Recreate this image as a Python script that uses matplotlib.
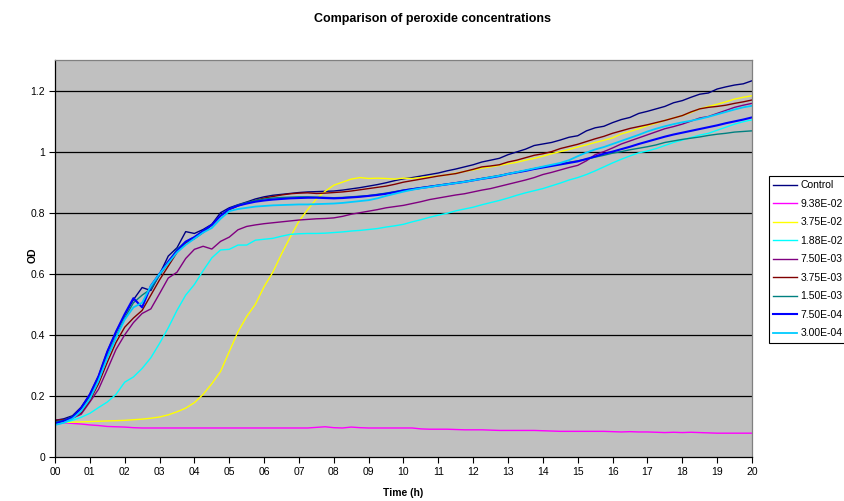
import numpy as np
import matplotlib
matplotlib.use('Agg')
import matplotlib.pyplot as plt

plt.rcParams['font.family'] = ['Liberation Sans', 'DejaVu Sans']

# time in hours, one reading every 15 min
hours = [h / 4 for h in range(81)]
hour_labels = ['%02d' % h for h in range(21)]

series_names = ['Control', '9.38E-02', '3.75E-02', '1.88E-02', '7.50E-03',
                '3.75E-03', '1.50E-03', '7.50E-04', '3.00E-04']

control = [0.12, 0.125, 0.135, 0.163, 0.205, 0.265, 0.345, 0.41,
           0.465, 0.515, 0.555, 0.545, 0.598, 0.658, 0.685, 0.738,
           0.732, 0.745, 0.762, 0.80, 0.816, 0.826, 0.835, 0.845,
           0.852, 0.857, 0.86, 0.863, 0.866, 0.868, 0.869, 0.87,
           0.871, 0.874, 0.878, 0.882, 0.887, 0.892, 0.898, 0.905,
           0.911, 0.915, 0.92, 0.925, 0.93, 0.937, 0.943, 0.95,
           0.957, 0.966, 0.972, 0.978, 0.99, 0.999, 1.008, 1.02,
           1.025, 1.03, 1.038, 1.047, 1.052, 1.068, 1.078, 1.083,
           1.095, 1.105, 1.112, 1.125, 1.132, 1.14, 1.148, 1.16,
           1.167, 1.178, 1.188, 1.192, 1.205, 1.212, 1.218, 1.222,
           1.232]

c_938e2 = [0.114, 0.112, 0.11, 0.108, 0.105, 0.103, 0.1, 0.099,
           0.098, 0.096, 0.095, 0.095, 0.095, 0.095, 0.095, 0.095,
           0.095, 0.095, 0.095, 0.095, 0.095, 0.095, 0.095, 0.095,
           0.095, 0.095, 0.095, 0.095, 0.095, 0.095, 0.097, 0.099,
           0.096, 0.095, 0.098, 0.096, 0.095, 0.095, 0.095, 0.095,
           0.095, 0.095, 0.092, 0.091, 0.091, 0.091, 0.09, 0.089,
           0.089, 0.089, 0.088, 0.087, 0.087, 0.087, 0.087, 0.087,
           0.086, 0.085, 0.084, 0.084, 0.084, 0.084, 0.084, 0.084,
           0.083, 0.082, 0.083, 0.082, 0.082, 0.081, 0.08, 0.081,
           0.08, 0.081, 0.08, 0.079, 0.078, 0.078, 0.078, 0.078,
           0.078]

c_375e2 = [0.112, 0.113, 0.114, 0.115, 0.116, 0.117, 0.118, 0.119,
           0.12, 0.122, 0.124, 0.127, 0.131, 0.138, 0.148, 0.16,
           0.178, 0.205, 0.24, 0.28, 0.345, 0.41, 0.46, 0.5,
           0.558, 0.605, 0.665, 0.72, 0.772, 0.81, 0.845, 0.87,
           0.89, 0.9, 0.91, 0.915, 0.912, 0.913, 0.912, 0.91,
           0.913, 0.912, 0.915, 0.918, 0.92, 0.924, 0.929, 0.935,
           0.94, 0.946, 0.95, 0.955, 0.96, 0.965, 0.972, 0.978,
           0.985, 0.993, 1.0, 1.007, 1.015, 1.022, 1.03, 1.037,
           1.045, 1.058, 1.066, 1.075, 1.085, 1.093, 1.102, 1.11,
           1.118, 1.128, 1.14, 1.148, 1.155, 1.163, 1.172, 1.178,
           1.183]

c_188e2 = [0.106, 0.112, 0.12, 0.13, 0.143, 0.162, 0.18, 0.205,
           0.245, 0.262, 0.29, 0.325, 0.372, 0.423, 0.48, 0.53,
           0.565, 0.61, 0.652, 0.678, 0.68, 0.694, 0.694, 0.71,
           0.713, 0.716, 0.723, 0.729, 0.731, 0.732, 0.732, 0.733,
           0.735, 0.737, 0.74, 0.742, 0.745, 0.748, 0.753, 0.757,
           0.762, 0.77, 0.777, 0.785, 0.792, 0.798, 0.806, 0.812,
           0.818, 0.826, 0.833, 0.84, 0.848, 0.857, 0.865, 0.872,
           0.879, 0.888, 0.897, 0.907, 0.915, 0.925, 0.937, 0.95,
           0.963, 0.975, 0.986, 0.996, 1.002, 1.01, 1.02, 1.03,
           1.038, 1.046, 1.054, 1.06, 1.07, 1.08, 1.09, 1.098,
           1.104]

c_750e3 = [0.12, 0.122, 0.127, 0.14, 0.18, 0.222, 0.286, 0.352,
           0.40, 0.44, 0.47, 0.485, 0.535, 0.586, 0.605, 0.65,
           0.68, 0.69, 0.681, 0.706, 0.72, 0.744, 0.755, 0.76,
           0.764, 0.767, 0.77, 0.773, 0.776, 0.778, 0.78, 0.781,
           0.783, 0.788, 0.795, 0.8, 0.805, 0.81, 0.816, 0.82,
           0.824, 0.83, 0.836, 0.843, 0.848, 0.853, 0.858, 0.862,
           0.868, 0.874, 0.879, 0.886, 0.893, 0.9, 0.907, 0.915,
           0.925, 0.932, 0.94, 0.948, 0.955, 0.97, 0.99, 1.0,
           1.012, 1.025, 1.035, 1.045, 1.055, 1.065, 1.075, 1.082,
           1.09, 1.1, 1.11, 1.115, 1.125, 1.135, 1.145, 1.152,
           1.158]

c_375e3 = [0.12, 0.122, 0.128, 0.145, 0.185, 0.24, 0.31, 0.375,
           0.425, 0.455, 0.48, 0.53, 0.58, 0.625, 0.67, 0.70,
           0.715, 0.735, 0.76, 0.79, 0.81, 0.822, 0.832, 0.84,
           0.848, 0.853, 0.858, 0.862, 0.864, 0.865, 0.863, 0.864,
           0.866, 0.868, 0.871, 0.875, 0.879, 0.883, 0.887, 0.893,
           0.9, 0.905, 0.91, 0.915, 0.92, 0.924, 0.928, 0.935,
           0.942, 0.95, 0.953, 0.957, 0.966, 0.972, 0.98, 0.988,
           0.993, 1.0, 1.01, 1.017, 1.024, 1.033, 1.042, 1.05,
           1.06, 1.068, 1.076, 1.082, 1.088, 1.095, 1.102, 1.11,
           1.118, 1.13, 1.14, 1.145, 1.148, 1.152, 1.158, 1.163,
           1.169]

c_150e3 = [0.115, 0.12, 0.132, 0.158, 0.198, 0.255, 0.33, 0.395,
           0.455, 0.505, 0.53, 0.55, 0.595, 0.635, 0.68, 0.705,
           0.72, 0.74, 0.76, 0.79, 0.812, 0.825, 0.833, 0.84,
           0.845, 0.848, 0.85, 0.851, 0.852, 0.852, 0.851, 0.85,
           0.849, 0.85, 0.852, 0.854, 0.856, 0.86, 0.864, 0.869,
           0.874, 0.878, 0.882, 0.886, 0.89, 0.894, 0.898, 0.902,
           0.907, 0.912, 0.917, 0.922, 0.927, 0.932, 0.938, 0.944,
           0.95, 0.955, 0.96, 0.965, 0.97, 0.975, 0.982, 0.988,
           0.995, 1.0, 1.006, 1.011, 1.016, 1.022, 1.03, 1.035,
           1.04, 1.044, 1.048, 1.053, 1.057, 1.06, 1.064, 1.066,
           1.068]

c_750e4 = [0.11, 0.118, 0.13, 0.16, 0.205, 0.265, 0.345, 0.41,
           0.468, 0.52, 0.49, 0.56, 0.60, 0.64, 0.675, 0.705,
           0.72, 0.74, 0.76, 0.79, 0.812, 0.823, 0.83, 0.836,
           0.84, 0.843, 0.845, 0.847, 0.848, 0.849, 0.849, 0.848,
           0.847, 0.848, 0.85, 0.852, 0.855, 0.858, 0.862, 0.867,
           0.873, 0.877, 0.881, 0.885, 0.889, 0.893, 0.897, 0.901,
           0.906, 0.911, 0.915, 0.92, 0.927, 0.932, 0.937, 0.943,
           0.948, 0.953, 0.958, 0.963, 0.968, 0.976, 0.984, 0.993,
           1.0, 1.008, 1.016, 1.025, 1.033, 1.041, 1.049, 1.056,
           1.062, 1.068, 1.074, 1.08, 1.086, 1.093, 1.099, 1.105,
           1.112]

c_300e4 = [0.105, 0.112, 0.125, 0.15, 0.19, 0.25, 0.325, 0.39,
           0.45, 0.49, 0.505, 0.56, 0.60, 0.635, 0.67, 0.695,
           0.715, 0.735, 0.75, 0.78, 0.805, 0.812, 0.816, 0.82,
           0.822, 0.824, 0.825, 0.826, 0.827, 0.827, 0.828, 0.829,
           0.83, 0.832, 0.835, 0.838, 0.841, 0.847, 0.855, 0.862,
           0.869, 0.875, 0.88, 0.884, 0.889, 0.893, 0.897, 0.901,
           0.906, 0.911, 0.916, 0.921, 0.927, 0.933, 0.939, 0.945,
           0.951, 0.957, 0.963, 0.972, 0.985, 0.997, 1.007, 1.015,
           1.025, 1.035, 1.045, 1.055, 1.066, 1.075, 1.083, 1.09,
           1.096, 1.101, 1.107, 1.114, 1.122, 1.13, 1.138, 1.145,
           1.15]

all_series = [control, c_938e2, c_375e2, c_188e2, c_750e3,
              c_375e3, c_150e3, c_750e4, c_300e4]
colors = ['#000080', '#FF00FF', '#FFFF00', '#00FFFF', '#800080',
          '#800000', '#008080', '#0000FF', '#00CCFF']
widths = [1.0, 1.0, 1.0, 1.0, 1.0, 1.0, 1.0, 1.5, 1.3]

fig = plt.figure(figsize=(8.45, 5.01), dpi=100)
ax = fig.add_axes([55/845, 1-457/501, (752-55)/845, (457-60)/501])
ax.set_facecolor('#C0C0C0')

for vals, name, col, lw in zip(all_series, series_names, colors, widths):
    ax.plot(hours, vals, color=col, lw=lw, label=name)

ax.set_xlim(0, 20)
ax.set_ylim(0, 1.3)
ax.set_xticks(range(21))
ax.set_xticklabels(hour_labels, fontsize=7.5)
ax.set_yticks([0, 0.2, 0.4, 0.6, 0.8, 1.0, 1.2])
ax.set_yticklabels(['0', '0.2', '0.4', '0.6', '0.8', '1', '1.2'], fontsize=7.5)
ax.tick_params(direction='out', length=4, width=0.8, color='black', pad=3)
for y in [0.2, 0.4, 0.6, 0.8, 1.0, 1.2]:
    ax.axhline(y, color='black', lw=0.9, zorder=0.5)

ax.spines['left'].set_color('black')
ax.spines['bottom'].set_color('black')
ax.spines['top'].set_color('#808080')
ax.spines['right'].set_color('#808080')
for s in ax.spines.values():
    s.set_linewidth(0.9)

ax.set_xlabel('Time (h)', fontsize=7.5, fontweight='bold', labelpad=8)
ax.set_ylabel('OD', fontsize=7.5, fontweight='bold')
ax.yaxis.set_label_coords((38-55)/697, (457-255)/397)

fig.text(433/845, 1-19/501, 'Comparison of peroxide concentrations',
         ha='center', va='center', fontsize=9, fontweight='bold')

leg = ax.legend(loc='upper left', bbox_to_anchor=(769/845, 1-176/501),
                bbox_transform=fig.transFigure, fontsize=7.5, frameon=True,
                fancybox=False, framealpha=1, edgecolor='black',
                borderpad=0.4, labelspacing=0.82, handlelength=2.3,
                handletextpad=0.3, borderaxespad=0)
leg.get_frame().set_linewidth(0.8)

fig.savefig('out.png', dpi=100)
